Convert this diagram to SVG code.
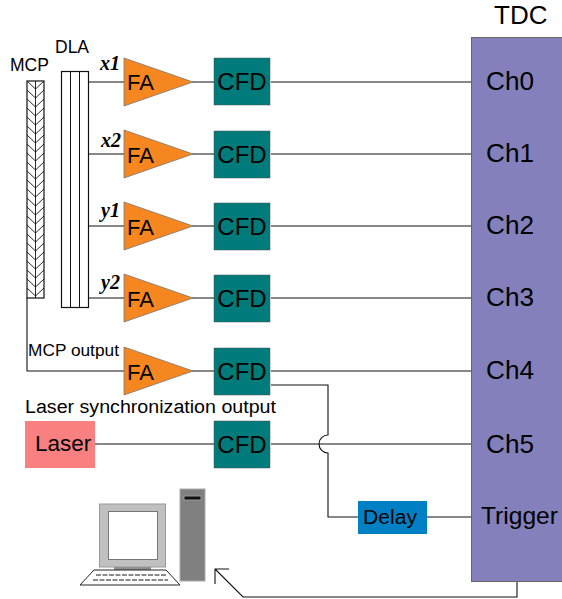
<svg xmlns="http://www.w3.org/2000/svg" width="562" height="599" viewBox="0 0 562 599">
<defs>
<style>
text{font-family:"Liberation Sans",Arial,sans-serif;fill:#000}
.w{stroke:#111;stroke-width:1.1;fill:none}
.fa{fill:#f68720;stroke:#777;stroke-width:.8}
.cfd{fill:#007b7b;stroke:#555;stroke-width:.5}
.lb{font-size:22px}
.c{font-size:24px}
.ch{font-size:25px}
.v{font-family:"Liberation Serif",serif;font-style:italic;font-weight:bold;font-size:20px}
.s{font-size:17.300px}
</style>
<path id="tri" class="fa" d="M0,-24V24L69,0Z"/>
</defs>
<rect width="562" height="599" fill="#fff"/>
<g id="connectors">
<path class="w" d="M89,82H124M192,82H214M271,82H472"/>
<path class="w" d="M89,154H124M192,154H214M271,154H472"/>
<path class="w" d="M89,226H124M192,226H214M271,226H472"/>
<path class="w" d="M89,298H124M192,298H214M271,298H472"/>
<path class="w" d="M27,298V371H124M192,371H214M271,371H472"/>
<path class="w" d="M81,444H214M271,444H472"/>
<path class="w" d="M271,385H328V435A9,9 0 0 0 328,453V517H358M427,517H472"/>
<path class="w" d="M517,582V597H243L215,569M215,584V569H229"/>
</g>
<g id="tdc"><rect x="471.500" y="37.500" width="91" height="544" fill="#8380bb" stroke="#666"/>
<text x="494" y="24" font-size="26">TDC</text>
<text class="ch" x="486" y="90" textLength="48" lengthAdjust="spacingAndGlyphs">Ch0</text><text class="ch" x="486" y="162" textLength="48" lengthAdjust="spacingAndGlyphs">Ch1</text><text class="ch" x="486" y="234" textLength="48" lengthAdjust="spacingAndGlyphs">Ch2</text><text class="ch" x="486" y="306" textLength="48" lengthAdjust="spacingAndGlyphs">Ch3</text><text class="ch" x="486" y="379" textLength="48" lengthAdjust="spacingAndGlyphs">Ch4</text><text class="ch" x="486" y="453" textLength="48" lengthAdjust="spacingAndGlyphs">Ch5</text>
<text x="481" y="524" font-size="24" textLength="77" lengthAdjust="spacingAndGlyphs">Trigger</text></g>
<g id="mcp"><rect x="27" y="81" width="17" height="217" fill="#fff" stroke="#111" stroke-width="1.2"/>
<path fill="none" stroke="#111" stroke-width=".9" d="M35.500,81V298M27,81l8.500,8 8.500,-8M27,90l8.500,8 8.500,-8M27,99l8.500,8 8.500,-8M27,108l8.500,8 8.500,-8M27,117l8.500,8 8.500,-8M27,126l8.500,8 8.500,-8M27,135l8.500,8 8.500,-8M27,144l8.500,8 8.500,-8M27,153l8.500,8 8.500,-8M27,162l8.500,8 8.500,-8M27,171l8.500,8 8.500,-8M27,180l8.500,8 8.500,-8M27,189l8.500,8 8.500,-8M27,198l8.500,8 8.500,-8M27,207l8.500,8 8.500,-8M27,216l8.500,8 8.500,-8M27,225l8.500,8 8.500,-8M27,234l8.500,8 8.500,-8M27,243l8.500,8 8.500,-8M27,252l8.500,8 8.500,-8M27,261l8.500,8 8.500,-8M27,270l8.500,8 8.500,-8M27,279l8.500,8 8.500,-8M27,288l8.500,8 8.500,-8"/>
<text x="10" y="71" font-size="17.500">MCP</text></g>
<g id="dla"><rect x="61.500" y="71.500" width="27" height="236" fill="#fff" stroke="#111" stroke-width="1.2"/>
<path stroke="#111" fill="none" d="M70.500,72V307M79.500,72V307"/>
<text x="55" y="53" font-size="17.500">DLA</text></g>
<g id="labels">
<text class="v" x="100" y="70">x1</text><text class="v" x="101" y="147">x2</text><text class="v" x="101" y="217">y1</text><text class="v" x="101" y="289">y2</text>
<text class="s" x="28" y="356">MCP output</text>
<text x="25" y="413" font-size="18" textLength="251" lengthAdjust="spacingAndGlyphs">Laser synchronization output</text>
</g>
<g id="fa0"><use href="#tri" x="124" y="82"/><text class="lb" x="127" y="90">FA</text></g>
<g id="fa1"><use href="#tri" x="124" y="154"/><text class="lb" x="127" y="163">FA</text></g>
<g id="fa2"><use href="#tri" x="124" y="226"/><text class="lb" x="127" y="235">FA</text></g>
<g id="fa3"><use href="#tri" x="124" y="298"/><text class="lb" x="127" y="307">FA</text></g>
<g id="fa4"><use href="#tri" x="124" y="371"/><text class="lb" x="127" y="380">FA</text></g>
<g id="cfd0"><rect class="cfd" x="214" y="58" width="56" height="47"/><text class="c" x="242" y="90" text-anchor="middle">CFD</text></g>
<g id="cfd1"><rect class="cfd" x="214" y="131" width="56" height="47"/><text class="c" x="242" y="163" text-anchor="middle">CFD</text></g>
<g id="cfd2"><rect class="cfd" x="214" y="203" width="56" height="47"/><text class="c" x="242" y="235" text-anchor="middle">CFD</text></g>
<g id="cfd3"><rect class="cfd" x="214" y="275" width="56" height="47"/><text class="c" x="242" y="307" text-anchor="middle">CFD</text></g>
<g id="cfd4"><rect class="cfd" x="214" y="348" width="56" height="47"/><text class="c" x="242" y="380" text-anchor="middle">CFD</text></g>
<g id="cfd5"><rect class="cfd" x="214" y="421" width="56" height="47"/><text class="c" x="242" y="453" text-anchor="middle">CFD</text></g>
<g id="laser"><rect x="25" y="421" width="70" height="47" fill="#f88080"/><text x="35" y="451" font-size="22.500">Laser</text></g>
<g id="delay"><rect x="358" y="501" width="69" height="33" fill="#0080c4"/><text x="363" y="524" font-size="20" textLength="54" lengthAdjust="spacingAndGlyphs">Delay</text></g>
<g id="computer">
<rect x="180" y="489" width="25" height="92" fill="#808080" stroke="#aaa"/>
<rect x="184" y="496" width="17" height="4" fill="#111" stroke="#999"/>
<rect x="99.500" y="504" width="66" height="63" fill="#c0c0c0" stroke="#999"/>
<rect x="108.500" y="511.500" width="49" height="48" fill="#fff" stroke="#777"/>
<rect x="114" y="567" width="37" height="4" fill="#909090"/>
<path d="M94,570H166L180,585H80Z" fill="#fff" stroke="#222"/>
<path d="M96,575H166M93,580H168" stroke="#666" stroke-width="1.500" stroke-dasharray="5 1.500"/>
</g>
</svg>
